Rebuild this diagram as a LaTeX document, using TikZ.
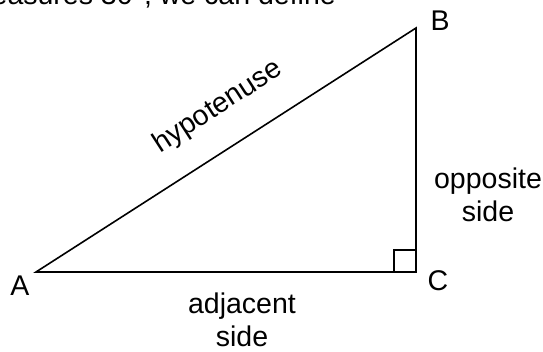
\documentclass[tikz,border=0pt]{standalone}
\usepackage{fontspec}
\setmainfont{Liberation Sans}
\begin{document}
\begin{tikzpicture}[x=1pt,y=-1pt,
  lbl/.style={inner sep=0pt,font=\fontsize{28.5}{33}\selectfont},
  edge/.style={line width=1.6pt,line join=miter}]
\useasboundingbox[fill=white] (0,0) rectangle (543,352);
\begin{scope}
\clip (0,0) rectangle (543,352);
\node[lbl,anchor=base east] (top) at (336,5) {measures 30°, we can define};
\end{scope}
\coordinate (A) at (36,272);
\coordinate (B) at (416,28);
\coordinate (C) at (416,272);
\draw[edge] (A) -- (B) -- (C) -- cycle;
\draw[line width=1.4pt] ([xshift=-22pt]C) -- ([xshift=-22pt,yshift=22pt]C) -- ([yshift=22pt]C);
\node[lbl] (la) at (20,286) {A};
\node[lbl] (lb) at (440,21) {B};
\node[lbl] (lc) at (438,281) {C};
\node[lbl,rotate=33] (hyp) at (218,107) {hypotenuse};
\node[lbl,align=center] (opp) at (488,195) {opposite\\side};
\node[lbl,align=center] (adj) at (242,320) {adjacent\\side};
\end{tikzpicture}
\end{document}
